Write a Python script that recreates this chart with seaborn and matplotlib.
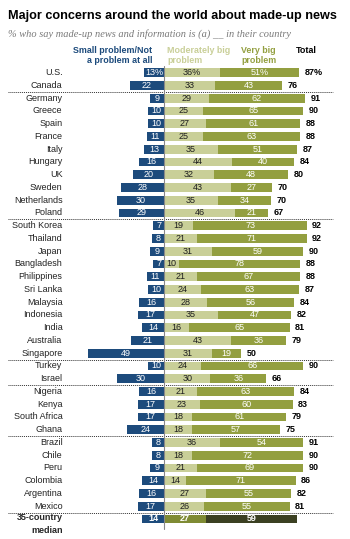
import pandas as pd
import seaborn as sns
import matplotlib.pyplot as plt

# Daten
countries = ["U.S.", "Canada", "Germany", "Greece", "Spain", "France", "Italy", "Hungary", "UK",
             "Sweden", "Netherlands", "Poland", "South Korea", "Thailand", "Japan", "Bangladesh",
             "Philippines", "Sri Lanka", "Malaysia", "Indonesia", "India", "Australia", "Singapore",
             "Turkey", "Israel", "Nigeria", "Kenya", "South Africa", "Ghana", "Brazil", "Chile",
             "Peru", "Colombia", "Argentina", "Mexico", "35-country\nmedian"]
small = [13, 22, 9, 10, 10, 11, 13, 16, 20, 28, 30, 29, 7, 8, 9, 7, 11, 10, 16, 17, 14, 21, 49,
         10, 30, 16, 17, 17, 24, 8, 8, 9, 14, 16, 17, 14]
moderate = [36, 33, 29, 25, 27, 25, 35, 44, 32, 43, 35, 46, 19, 21, 31, 10, 21, 24, 28, 35, 16, 43, 31,
            24, 30, 21, 23, 18, 18, 36, 18, 21, 14, 27, 26, 27]
very = [51, 43, 62, 65, 61, 63, 51, 40, 48, 27, 34, 21, 73, 71, 59, 78, 67, 63, 56, 47, 65, 36, 19,
        66, 36, 63, 60, 61, 57, 54, 72, 69, 71, 55, 55, 59]
total = [87, 76, 91, 90, 88, 88, 87, 84, 80, 70, 70, 67, 92, 92, 90, 88, 88, 87, 84, 82, 81, 79, 50,
         90, 66, 84, 83, 79, 75, 91, 90, 90, 86, 82, 81, None]
separators = [1.5, 11.5, 22.5, 24.5, 28.5, 34.5]

BLUE = "#1d4b7c"
LIGHT = "#c9cf98"
OLIVE = "#939f40"
MED_MOD = "#7f8b34"
MED_VERY = "#3b4022"

df = pd.DataFrame({"country": countries, "small": small, "moderate": moderate, "very": very})
df["neg_small"] = -df["small"]
df["big_sum"] = df["moderate"] + df["very"]

median = countries[-1]
pal_mod = {c: LIGHT for c in countries}
pal_mod[median] = MED_MOD
pal_very = {c: OLIVE for c in countries}
pal_very[median] = MED_VERY

sns.set_theme(style="white")
plt.rcParams["font.family"] = ["Liberation Sans", "DejaVu Sans"]

fig = plt.figure(figsize=(3.5, 5.39), dpi=100)
ax = fig.add_axes([0, 0, 1, 1])

bh = 0.68
sns.barplot(data=df, y="country", x="neg_small", color=BLUE, width=bh, ax=ax,
            saturation=1, linewidth=0, errorbar=None)
sns.barplot(data=df, y="country", x="big_sum", hue="country", palette=pal_very, width=bh, ax=ax,
            saturation=1, linewidth=0, errorbar=None, legend=False)
sns.barplot(data=df, y="country", x="moderate", hue="country", palette=pal_mod, width=bh, ax=ax,
            saturation=1, linewidth=0, errorbar=None, legend=False)

ax.set_xlim(-105.8, 120.0)
ax.set_ylim(36.57, -5.70)
ax.axis("off")

fs = 6.5
n = len(countries)
for i in range(n):
    pct = "%" if i == 0 else ""
    is_med = i == n - 1
    ax.text(-small[i] / 2, i, f"{small[i]}{pct}", ha="center", va="center", color="white",
            fontsize=fs, fontweight="bold" if is_med else "normal")
    ax.text(moderate[i] / 2, i, f"{moderate[i]}{pct}", ha="center", va="center",
            color="white" if is_med else "#1e1e1e", fontsize=fs,
            fontweight="bold" if is_med else "normal")
    ax.text(moderate[i] + very[i] / 2, i, f"{very[i]}{pct}", ha="center", va="center",
            color="white", fontsize=fs, fontweight="bold" if is_med else "normal")
    if total[i] is not None:
        ax.text(moderate[i] + very[i] + 3.5, i, f"{total[i]}{pct}", ha="left", va="center",
                color="black", fontsize=fs, fontweight="bold")
    if is_med:
        ax.text(-65.5, i - 0.45, countries[i], ha="right", va="top", fontsize=fs,
                fontweight="bold", linespacing=1.5)
    else:
        ax.text(-65.5, i, countries[i], ha="right", va="center", fontsize=fs, color="#222222")

# Trennlinien
for s in separators:
    ax.plot([-100.6, 109], [s, s], color="#333333", linestyle=(0, (1, 1)), linewidth=0.7)
ax.plot([0, 0], [-0.5, 35.8], color="#888888", linewidth=0.8, zorder=5)

# Kopfzeilen
ax.text(-7.7, -1.35, "Small problem/Not\na problem at all", ha="right", va="center",
        color=BLUE, fontsize=6.4, fontweight="bold", multialignment="right", linespacing=1.15)
ax.text(2, -1.35, "Moderately big\nproblem", ha="left", va="center", color=LIGHT,
        fontsize=6.4, fontweight="bold", linespacing=1.15)
ax.text(49.7, -1.35, "Very big\nproblem", ha="left", va="center", color=OLIVE,
        fontsize=6.4, fontweight="bold", linespacing=1.15)
ax.text(85, -1.72, "Total", ha="left", va="center", color="black", fontsize=6.4, fontweight="bold")

fig.text(8 / 350, 1 - 16 / 539, "Major concerns around the world about made-up news",
         ha="left", va="center", fontsize=9.1, fontweight="bold", color="black")
fig.text(8 / 350, 1 - 34 / 539, "% who say made-up news and information is (a) __ in their country",
         ha="left", va="center", fontsize=7.5, style="italic", color="#7a7a7a",
         family=["Liberation Serif", "DejaVu Serif"])

fig.savefig("out.png", dpi=100)
